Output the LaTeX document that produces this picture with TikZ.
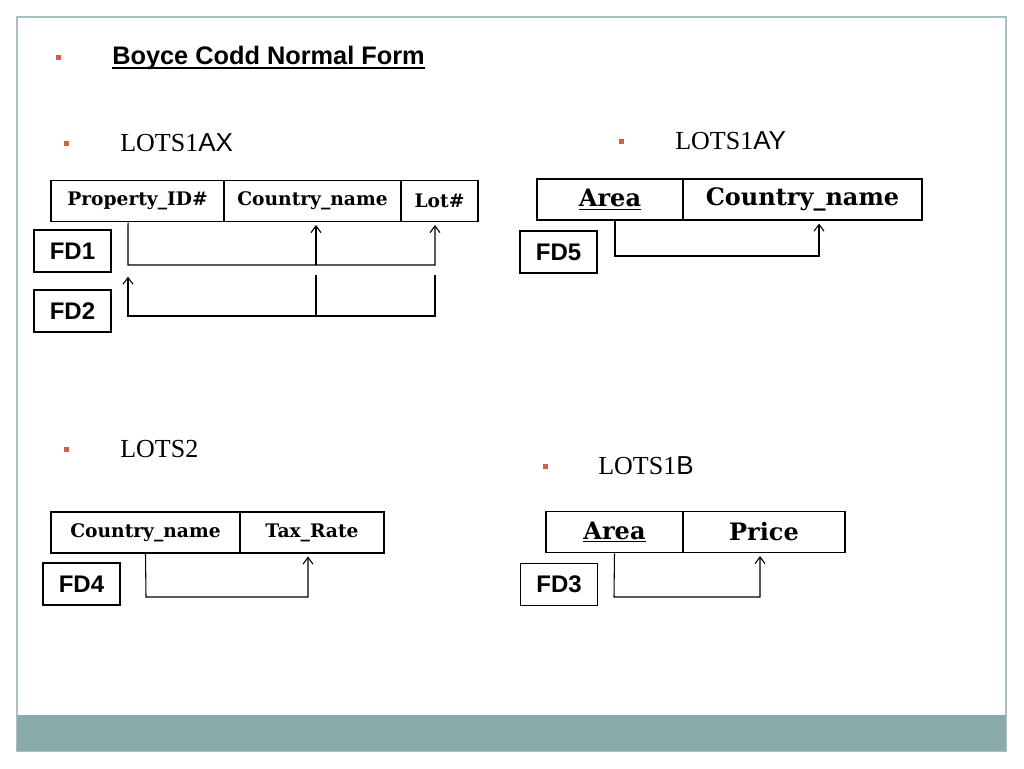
\documentclass[tikz,border=0pt]{standalone}
\usepackage{fontspec}
\setmainfont{Liberation Serif}
\newfontfamily\arialfont{Liberation Sans}
\newfontfamily\cellfont{DejaVu Serif}
\usetikzlibrary{arrows.meta}
\definecolor{framegray}{HTML}{A9C0C2}
\definecolor{bandteal}{HTML}{8AABAB}
\definecolor{bulletred}{HTML}{D0604F}

\begin{document}
\begin{tikzpicture}[x=0.75pt,y=-0.75pt,
		cell/.style={draw,line width=1.1pt,inner sep=0pt,minimum height=31pt,font=\cellfont\bfseries\fontsize{14}{16}\selectfont},
		bigcell/.style={cell,font=\cellfont\bfseries\fontsize{18}{20}\selectfont},
		fdbox/.style={draw,line width=1.2pt,inner sep=0pt,minimum width=57.75pt,minimum height=31.5pt,font=\arialfont\bfseries\fontsize{18}{20}\selectfont},
		link/.style={line width=0.8pt},
		arrow/.style={link,-{Straight Barb[length=5pt,width=7.5pt]},shorten >=2pt},
		lots/.style={anchor=west,inner sep=0pt,font=\fontsize{19.5}{22}\selectfont},
		bullet/.style={fill=bulletred,minimum size=3.75pt,inner sep=0pt}]
				\useasboundingbox (0,0) rectangle (1024,768);
				\fill[white] (0,0) rectangle (1024,768);
				\draw[framegray,line width=1.1pt] (17,17) rectangle (1006,751);
				\fill[bandteal] (17,715) rectangle (1006,751);

				\node[bullet] (b0) at (58,57) {};
				\node[anchor=base west,inner sep=0pt,font=\arialfont\bfseries\fontsize{19}{22}\selectfont] (title) at (112,64) {Boyce Codd Normal Form};
				\draw[line width=1.5pt] ([yshift=-3.2pt]title.base west) -- ([yshift=-3.2pt]title.base east);

				% LOTS1AX
				\node[bullet] (b1) at (66,143) {};
				\node[lots] (lx) at (120,143) {LOTS1{\arialfont AX}};
				\node[cell,minimum width=129.75pt] (pid) at (137.5,201) {Property\_ID\#};
				\node[cell,minimum width=132.75pt] (cn1) at (312.5,201) {Country\_name};
				\node[cell,minimum width=57.75pt] (lot) at (439.5,201) {Lot\#};
				\node[fdbox] (fd1) at (72.5,251) {FD1};
				\node[fdbox] (fd2) at (72.5,311) {FD2};

				\coordinate (a1) at (128,265);
				\coordinate (a2) at (435,265);
				\coordinate (a3) at (316,265);
				\path[arrow,draw] ([xshift=-7.1pt]pid.south) -- (a1) -- (a2) -- (a2 |- lot.south);
				\path[arrow,draw] (a3) -- (a3 |- cn1.south);

				\coordinate (c1) at (128,316);
				\coordinate (c2) at (435,316);
				\coordinate (c3) at (316,316);
				\coordinate (c2t) at (435,275);
				\coordinate (c3t) at (316,275);
				\coordinate (c1t) at (128,274);
				\path[link,draw] (c3t) -- (c3);
				\path[arrow,draw] (c2t) -- (c2) -- (c1) -- (c1t);

				% LOTS1AY
				\node[bullet] (b2) at (621,141) {};
				\node[lots] (ly) at (675,141) {LOTS1{\arialfont AY}};
				\node[bigcell,minimum width=109.5pt] (ar1) at (610,199.5) {\underline{Area}};
				\node[bigcell,minimum width=179.25pt] (cn5) at (802.5,199.5) {Country\_name};
				\node[fdbox] (fd5) at (558.5,252) {FD5};

				\coordinate (d1) at (615,256);
				\coordinate (d2) at (819,256);
				\path[arrow,draw] ([xshift=3.75pt]ar1.south) -- (d1) -- (d2) -- (d2 |- cn5.south);

				% LOTS2
				\node[bullet] (b3) at (66,449) {};
				\node[lots] (l2) at (120,449) {LOTS2};
				\node[cell,minimum width=141.75pt] (cn2) at (145.5,532.5) {Country\_name};
				\node[cell,minimum width=108pt] (tax) at (312,532.5) {Tax\_Rate};
				\node[fdbox] (fd4) at (81.5,584) {FD4};

				\coordinate (e1) at (146,597);
				\coordinate (e2) at (308,597);
				\path[arrow,draw] (cn2.south) -- (e1) -- (e2) -- (e2 |- tax.south);

				% LOTS1B
				\node[bullet] (b4) at (545,466) {};
				\node[lots] (lb) at (598,466) {LOTS1{\arialfont B}};
				\node[bigcell,minimum width=102.75pt] (ar2) at (614.5,532) {\underline{Area}};
				\node[bigcell,minimum width=121.5pt] (pr) at (764,532) {Price};
				\node[fdbox] (fd3) at (559,584.5) {FD3};

				\coordinate (g1) at (614,597);
				\coordinate (g2) at (760,597);
				\path[arrow,draw] (ar2.south) -- (g1) -- (g2) -- (g2 |- pr.south);
			\end{tikzpicture}
\end{document}
